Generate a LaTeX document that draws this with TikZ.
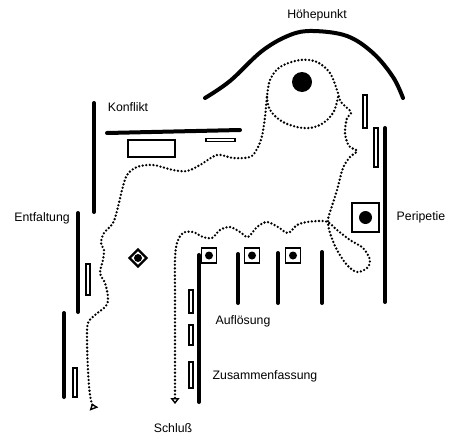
\documentclass[tikz,border=0pt]{standalone}
\usepackage{fontspec}
\setmainfont{Liberation Sans}
\usetikzlibrary{shapes.geometric, arrows.meta}

\begin{document}
\begin{tikzpicture}[
    x=1pt, y=-1pt,
    wall/.style={line width=4pt, line cap=round},
    bar/.style={draw, line width=1.7pt},
    trail/.style={line width=2.6pt, line cap=round, dash pattern=on 0pt off 3.6pt},
    spot/.style={circle, fill=black, inner sep=0pt},
    label/.style={font=\fontsize{12.3}{14}\selectfont, text=black, inner sep=0pt}
]
\useasboundingbox (0,0) rectangle (449,434);

% Labels
\node[label] (hp) at (317,15) {Höhepunkt};
\node[label] (kf) at (128,107) {Konflikt};
\node[label] (ef) at (42,218) {Entfaltung};
\node[label] (pp) at (421,217) {Peripetie};
\node[label] (al) at (243,321) {Auflösung};
\node[label] (zf) at (265,376) {Zusammenfassung};
\node[label] (sl) at (173,428) {Schluß};

% Arc over the climax
\draw[wall] plot[smooth, tension=0.6] coordinates {(205,98) (230,81) (262,51) (290,35) (313,31) (347,36) (373,53) (393,77) (403,98)};
\node[spot, minimum size=20pt] (climax) at (302,82) {};

% Walls
\draw[wall] (94,103) -- (94,212);
\draw[wall] (107,133) -- (240,130);
\draw[wall] (78,213) -- (78,312);
\draw[wall] (64,313) -- (64,397);
\draw[wall] (385,128) -- (385,302);
\draw[wall] (199,255) -- (199,402);
\foreach \x/\y in {238/254, 278/253, 322/252}
    \draw[wall] (\x,\y) -- (\x,303);

% Small bars
\draw[bar] (128,140) rectangle (175,157);
\draw[bar] (206,138.5) rectangle (235,141.5);
\draw[bar] (363,95) rectangle (367,128);
\draw[bar] (374,128) rectangle (378,167);
\draw[bar] (86,264) rectangle (90,295);
\draw[bar] (73,368) rectangle (77,397);
\draw[bar] (189,290) rectangle (193,313);
\draw[bar] (189,325) rectangle (193,345);
\draw[bar] (189,362) rectangle (193,388);

% Boxes with spots
\draw[line width=1.5pt] (352,203) rectangle (379,232);
\node[spot, minimum size=13pt] (turn) at (365.5,217.5) {};
\foreach \x [count=\i] in {209,252,293} {
    \draw[line width=1.5pt] (\x-7.5,248) rectangle (\x+7.5,263);
    \node[spot, minimum size=8pt] (s\i) at (\x,255.5) {};
}
\node[diamond, draw, line width=2.2pt, minimum size=18pt, inner sep=0pt] (dm) at (138,258) {};
\node[spot, minimum size=8pt] at (dm) {};

% Dotted path of the action
\draw[trail, {Triangle[open, reversed, length=6pt, width=9pt, line width=1.4pt]}-{Triangle[open, length=6pt, width=9pt, line width=1.4pt]}]
  plot[smooth, tension=0.55] coordinates {
    (94,409) (90,395) (88,370) (87,340) (88,323) (95,315) (106,306) (108,297)
    (105,283) (100,273) (103,260) (104,250) (101,243) (104,233) (113,223)
    (118,207) (122,190) (127,175) (137,167) (153,165) (173,170) (187,171)
    (200,165) (217,155) (233,158) (250,157) (257,149) (262,136) (265,117)
    (267,97) (270,80) (280,67) (300,60) (317,62) (330,73) (337,90) (341,102)
    (351,112) (347,118) (345,133) (349,146) (357,151) (350,157) (343,168)
    (337,190) (332,206) (328,220) (330,233) (337,250) (347,265) (357,272)
    (367,268) (370,260) (363,248) (350,240) (337,230) (328,222) (320,221)
    (307,222) (297,225) (288,233) (278,227) (267,222) (257,227) (248,237)
    (240,232) (230,227) (220,230) (212,238) (203,237) (193,232) (183,233)
    (177,243) (175,260) (175,300) (175,350) (175,404)};
\draw[trail] plot[smooth, tension=0.6] coordinates {(267,97) (270,110) (283,122) (303,128) (320,125) (333,113) (338,97)};

\end{tikzpicture}
\end{document}
